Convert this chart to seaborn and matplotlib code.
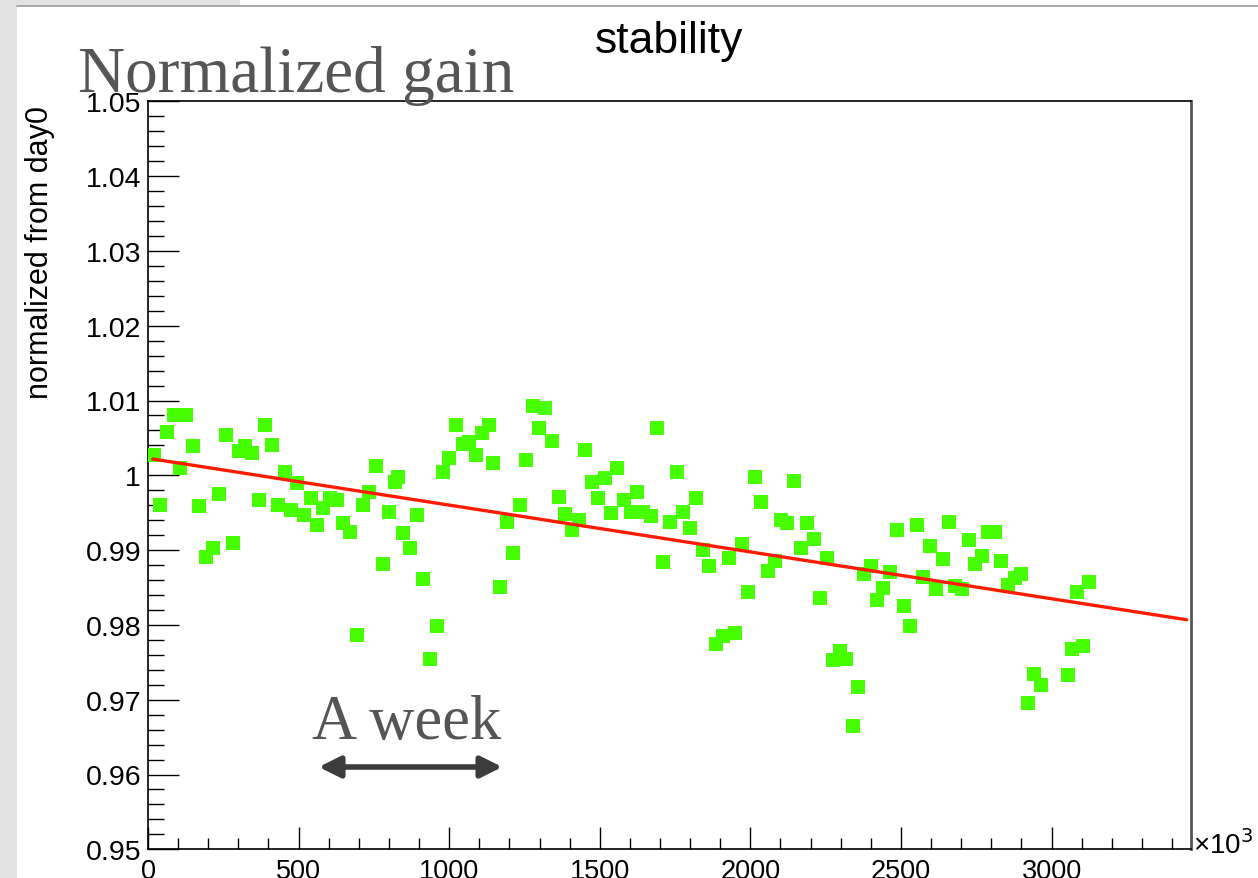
import matplotlib
matplotlib.use("Agg")
import matplotlib.pyplot as plt
import matplotlib.ticker as mticker
from matplotlib.patches import Rectangle
from matplotlib.lines import Line2D
import seaborn as sns
import pandas as pd

# ---------------- data (time in units of 10^3, gain normalized to day0) ----------------
time_k = [19.9, 39.8, 62.0, 85.3, 106.0, 127.0, 150.4, 170.3, 192.6, 214.8,
          236.7, 259.0, 281.2, 301.1, 323.0, 345.3, 367.5, 388.4, 410.7, 431.6,
          453.9, 474.8, 495.7, 517.9, 540.2, 562.1, 582.0, 604.2, 626.5, 648.4,
          670.6, 692.9, 712.8, 734.7, 757.0, 779.2, 801.1, 820.0, 828.4, 847.6,
          869.9, 892.1, 914.0, 936.3, 958.5, 978.4, 1000.3, 1022.6, 1044.8, 1066.7,
          1089.0, 1108.9, 1131.1, 1146.4, 1168.7, 1190.9, 1212.8, 1235.1, 1255.0, 1277.2,
          1299.2, 1319.1, 1341.3, 1363.6, 1385.5, 1407.7, 1430.0, 1449.9, 1474.1, 1494.0,
          1516.3, 1538.2, 1558.1, 1580.3, 1602.6, 1624.5, 1644.4, 1669.0, 1688.9, 1710.8,
          1733.1, 1755.3, 1777.2, 1799.5, 1819.4, 1841.6, 1863.5, 1885.8, 1908.0, 1927.9,
          1949.9, 1972.1, 1993.0, 2014.3, 2036.2, 2058.4, 2080.7, 2100.6, 2122.5, 2144.8,
          2167.0, 2188.9, 2211.2, 2231.1, 2253.3, 2275.2, 2297.5, 2317.4, 2339.6, 2357.2,
          2377.2, 2399.4, 2421.3, 2441.2, 2463.5, 2485.7, 2509.9, 2529.9, 2552.1, 2572.0,
          2596.3, 2616.2, 2638.4, 2660.4, 2680.3, 2702.5, 2724.8, 2746.7, 2768.9, 2788.8,
          2813.1, 2833.0, 2855.2, 2877.5, 2897.4, 2921.6, 2941.6, 2963.8, 3054.5, 3067.8,
          3083.3, 3103.2, 3125.2]
gain = [1.00271, 0.99603, 1.00583, 1.00806, 1.00094, 1.00806, 1.00388, 0.99586, 0.98904, 0.99032,
        0.99754, 1.00543, 0.99099, 1.00325, 1.00396, 1.00298, 0.99666, 1.00672, 1.00405, 0.99603,
        1.00040, 0.99532, 0.99897, 0.99469, 0.99693, 0.99336, 0.99559, 0.99693, 0.99666, 0.99362,
        0.99246, 0.97869, 0.99603, 0.99773, 1.00128, 0.98814, 0.99513, 0.99910, 0.99977, 0.99229,
        0.99028, 0.99469, 0.98614, 0.97544, 0.97981, 1.00040, 1.00235, 1.00672, 1.00414, 1.00441,
        1.00275, 1.00561, 1.00672, 1.00168, 0.98507, 0.99380, 0.98965, 0.99603, 1.00209, 1.00930,
        1.00628, 1.00896, 1.00455, 0.99710, 0.99487, 0.99273, 0.99398, 1.00342, 0.99906, 0.99693,
        0.99968, 0.99492, 1.00102, 0.99666, 0.99513, 0.99773, 0.99513, 0.99452, 1.00628, 0.98837,
        0.99380, 1.00040, 0.99513, 0.99295, 0.99693, 0.98997, 0.98791, 0.97741, 0.97848, 0.98898,
        0.97892, 0.99078, 0.98444, 0.99977, 0.99643, 0.98725, 0.98854, 0.99406, 0.99362, 0.99928,
        0.99032, 0.99362, 0.99144, 0.98356, 0.98898, 0.97527, 0.97651, 0.97544, 0.96648, 0.97174,
        0.98680, 0.98783, 0.98333, 0.98489, 0.98703, 0.99273, 0.98249, 0.97981, 0.99340, 0.98636,
        0.99055, 0.98480, 0.98877, 0.99380, 0.98524, 0.98480, 0.99139, 0.98814, 0.98925, 0.99246,
        0.99246, 0.98858, 0.98533, 0.98623, 0.98680, 0.96956, 0.97348, 0.97197, 0.97330, 0.97674,
        0.98444, 0.97718, 0.98570]

# linear fit drawn on the chart (end points)
fit_time_k = [15.6, 3448.5]
fit_gain = [1.00218, 0.98069]

x_ticks = [0, 500, 1000, 1500, 2000, 2500, 3000]
y_ticks = [0.95, 0.96, 0.97, 0.98, 0.99, 1.00, 1.01, 1.02, 1.03, 1.04, 1.05]
y_tick_labels = ["0.95", "0.96", "0.97", "0.98", "0.99", "1", "1.01", "1.02", "1.03", "1.04", "1.05"]

title_text = "stability"
ylabel_text = "normalized from day0"
overlay_title = "Normalized gain"
overlay_week = "A week"
x_multiplier = "\u00d710$^3$"

df = pd.DataFrame({"time": time_k, "gain": gain})
fit_df = pd.DataFrame({"time": fit_time_k, "gain": fit_gain})

# ---------------- figure ----------------
sns.set_theme(style="ticks")
plt.rcParams["font.family"] = ["Liberation Sans", "DejaVu Sans"]

W, H = 1258, 879
fig = plt.figure(figsize=(W / 100, H / 100), dpi=100)
fig.patch.set_facecolor("white")

# paper-like strips at the left / top-left edge
fig.patches.append(Rectangle((0, 0), 17 / W, 1, transform=fig.transFigure,
                             facecolor="#e3e3e3", edgecolor="none", zorder=0))
fig.patches.append(Rectangle((0, 1 - 6 / H), 240 / W, 6 / H, transform=fig.transFigure,
                             facecolor="#e3e3e3", edgecolor="none", zorder=0))
fig.lines.append(Line2D([17 / W, 1], [1 - 7 / H, 1 - 7 / H], transform=fig.transFigure,
                        color="#9a9a9a", lw=1.2))

ax_left, ax_right = 148 / W, 1191 / W
ax_bottom, ax_top = 1 - 850.3 / H, 1 - 102.3 / H
ax = fig.add_axes([ax_left, ax_bottom, ax_right - ax_left, ax_top - ax_bottom])
ax.set_facecolor("white")

sns.scatterplot(data=df, x="time", y="gain", ax=ax, marker="s", s=88,
                color="#47ff00", linewidth=0, zorder=3, legend=False)
sns.lineplot(data=fit_df, x="time", y="gain", ax=ax, color="#ff1a00",
             linewidth=2.4, zorder=4, legend=False)

ax.set_xlim(0, 3463)
ax.set_ylim(0.95, 1.05)
ax.set_xlabel("")
ax.set_ylabel("")

ax.set_xticks(x_ticks)
ax.set_xticklabels([str(v) for v in x_ticks])
ax.xaxis.set_minor_locator(mticker.MultipleLocator(100))
ax.set_yticks(y_ticks)
ax.set_yticklabels(y_tick_labels)
ax.yaxis.set_minor_locator(mticker.MultipleLocator(0.002))

ax.tick_params(axis="x", which="major", direction="in", length=16, width=1.0,
               labelsize=19.5, pad=6, color="black", labelcolor="black")
ax.tick_params(axis="x", which="minor", direction="in", length=8, width=1.0, color="black")
ax.tick_params(axis="y", which="major", direction="in", length=22.5, width=1.0,
               labelsize=20.5, pad=5, color="black", labelcolor="black")
ax.tick_params(axis="y", which="minor", direction="in", length=11.3, width=1.0, color="black")
ax.tick_params(top=False, right=False, which="both")

for side in ["left", "bottom", "top"]:
    ax.spines[side].set_color("black")
    ax.spines[side].set_linewidth(1.2)
ax.spines["right"].set_color("#555555")
ax.spines["right"].set_linewidth(2.0)

# titles and labels
fig.text(669 / W, 1 - 41 / H, title_text, ha="center", va="center", fontsize=32, color="black")
fig.text(40 / W, 1 - 106 / H, ylabel_text, rotation=90, ha="center", va="top",
         fontsize=22, color="black")
fig.text(1193 / W, 1 - 845 / H, x_multiplier, ha="left", va="center", fontsize=20, color="black")

# overlay annotations
fig.text(78 / W, 1 - 92 / H, overlay_title, ha="left", va="baseline",
         family=["Liberation Serif", "DejaVu Serif"], fontsize=47, color="#555555", zorder=10)
fig.text(312 / W, 1 - 739 / H, overlay_week, ha="left", va="baseline",
         family=["Liberation Serif", "DejaVu Serif"], fontsize=45, color="#555555", zorder=10)
fig.patches.append(matplotlib.patches.FancyArrowPatch(
    (316 / W, 1 - 768 / H), (505 / W, 1 - 768 / H), transform=fig.transFigure,
    arrowstyle="<|-|>", mutation_scale=32, lw=4, color="#3c3c3c", zorder=10))

fig.savefig("out.png", dpi=100)
